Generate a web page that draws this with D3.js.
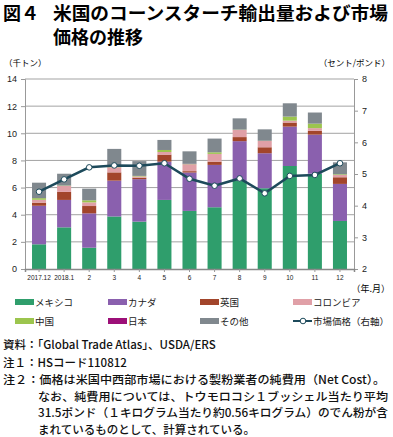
<html lang="ja">
<head>
<meta charset="UTF-8">
<script src="https://d3js.org/d3.v7.min.js"></script>
<style>
    body { margin: 0; background: #fff; }
    svg { font-family: "Noto Sans CJK JP", sans-serif; }
</style>
</head>
<body>
<script>
    const labels = ["2017.12", "2018.1", "2", "3", "4", "5", "6", "7", "8", "9", "10", "11", "12"];
    const mexico   = [1.82, 3.07, 1.57, 3.87, 3.49, 5.09, 4.28, 4.55, 6.50, 5.95, 7.59, 7.02, 3.54];
    const canada   = [2.84, 2.02, 2.53, 2.64, 3.13, 2.82, 2.83, 3.12, 2.92, 2.58, 2.90, 2.88, 2.73];
    const uk       = [0.23, 0.59, 0.54, 0.61, 0.10, 0.52, 0.10, 0.24, 0.30, 0.44, 0.30, 0.28, 0.49];
    const colombia = [0.21, 0.44, 0.27, 0.38, 0.10, 0.19, 0.50, 0.57, 0.53, 0.46, 0.14, 0.20, 0.17];
    const china    = [0.12, 0.03, 0.15, 0.10, 0.04, 0.15, 0.02, 0.12, 0.02, 0.02, 0.30, 0.33, 0.05];
    const japan    = [0, 0, 0, 0, 0, 0, 0.02, 0, 0, 0, 0, 0, 0];
    const other    = [1.14, 0.87, 0.86, 1.25, 1.09, 0.74, 0.92, 1.01, 0.83, 0.84, 0.98, 0.82, 0.88];
    const price    = [4.44, 4.83, 5.21, 5.27, 5.26, 5.34, 4.85, 4.63, 4.86, 4.39, 4.94, 4.97, 5.34];
    const leftTicks = [0, 2, 4, 6, 8, 10, 12, 14];
    const rightTicks = [2, 3, 4, 5, 6, 7, 8];

    const seriesNames = ["メキシコ", "カナダ", "英国", "コロンビア", "中国", "日本", "その他"];
    const seriesData = [mexico, canada, uk, colombia, china, japan, other];
    const colors = ["#2f9e6c", "#8a60ae", "#a2452b", "#e0a0a7", "#9cc54e", "#9c0f78", "#80888e"];

    const w = 393, h = 437;
    const plotLeft = 25, plotRight = 354, plotTop = 79, plotBottom = 269;

    const rows = labels.map((l, i) => {
        const r = { label: l };
        seriesNames.forEach((n, k) => r[n] = seriesData[k][i]);
        return r;
    });
    const stacked = d3.stack().keys(seriesNames)(rows);

    const xScale = d3.scaleBand().domain(labels).range([plotLeft, plotRight]).paddingInner(0.44).paddingOuter(0.28);
    const yScale = d3.scaleLinear().domain([0, 14]).range([plotBottom, plotTop]);
    const y2Scale = d3.scaleLinear().domain([2, 8]).range([plotBottom, plotTop]);

    const svg = d3.select("body").append("svg").attr("width", w).attr("height", h);

    // title
    svg.append("text").attr("x", 3).attr("y", 20).style("font-size", "18px").style("font-weight", "bold")
        .text("図４");
    svg.append("text").attr("x", 53).attr("y", 20).style("font-size", "18px").style("font-weight", "bold")
        .attr("textLength", 335).attr("lengthAdjust", "spacingAndGlyphs").text("米国のコーンスターチ輸出量および市場");
    svg.append("text").attr("x", 53).attr("y", 44).style("font-size", "18px").style("font-weight", "bold")
        .text("価格の推移");

    svg.append("text").attr("x", 4).attr("y", 66).style("font-size", "8.5px").text("（千トン）");
    svg.append("text").attr("x", 390).attr("y", 66).attr("text-anchor", "end").style("font-size", "8.5px").text("（セント/ポンド）");

    // gridlines
    svg.append("g").selectAll("line").data(leftTicks.slice(1)).enter().append("line")
        .attr("x1", plotLeft).attr("x2", plotRight)
        .attr("y1", d => yScale(d)).attr("y2", d => yScale(d))
        .attr("stroke", "#a3a3a3").attr("stroke-width", 1);

    const yAxis = d3.axisLeft(yScale).tickValues(leftTicks).tickSize(4).tickPadding(4);
    const gy = svg.append("g").attr("transform", "translate(" + plotLeft + ",0)").call(yAxis);
    gy.select(".domain").attr("stroke", "#999");
    gy.selectAll(".tick line").attr("stroke", "#999");
    gy.selectAll("text").style("font-size", "9px").style("font-family", "Arial, 'Liberation Sans', sans-serif").attr("fill", "#222");

    const y2Axis = d3.axisRight(y2Scale).tickValues(rightTicks).tickFormat(d3.format("d")).tickSize(4).tickPadding(4);
    const gy2 = svg.append("g").attr("transform", "translate(" + plotRight + ",0)").call(y2Axis);
    gy2.select(".domain").attr("stroke", "#999");
    gy2.selectAll(".tick line").attr("stroke", "#999");
    gy2.selectAll("text").style("font-size", "9px").style("font-family", "Arial, 'Liberation Sans', sans-serif").attr("fill", "#222");

    // bars
    svg.append("g").selectAll("g").data(stacked).enter().append("g")
        .attr("fill", (d, i) => colors[i])
        .selectAll("rect").data(d => d).enter().append("rect")
        .attr("x", d => xScale(d.data.label))
        .attr("width", xScale.bandwidth())
        .attr("y", d => yScale(d[1]))
        .attr("height", d => yScale(d[0]) - yScale(d[1]));

    const xAxis = d3.axisBottom(xScale).tickSize(3).tickPadding(3);
    const gx = svg.append("g").attr("transform", "translate(0," + plotBottom + ")").call(xAxis);
    gx.select(".domain").attr("stroke", "#888").attr("stroke-width", 1.5);
    gx.selectAll(".tick line").attr("stroke", "#999");
    gx.selectAll("text").style("font-size", "6.5px").style("font-family", "Arial, 'Liberation Sans', sans-serif").attr("fill", "#222");

    // price line
    const line = d3.line().x((d, i) => xScale(labels[i]) + xScale.bandwidth() / 2).y(d => y2Scale(d));
    svg.append("path").datum(price).attr("d", line).attr("fill", "none")
        .attr("stroke", "#1d4a5b").attr("stroke-width", 2.5);
    svg.append("g").selectAll("circle").data(price).enter().append("circle")
        .attr("cx", (d, i) => xScale(labels[i]) + xScale.bandwidth() / 2)
        .attr("cy", d => y2Scale(d)).attr("r", 2.8)
        .attr("fill", "#fff").attr("stroke", "#1d4a5b").attr("stroke-width", 1);

    svg.append("text").attr("x", 390).attr("y", 292).attr("text-anchor", "end").style("font-size", "9px").text("（年.月）");

    // legend
    const legendItems = seriesNames.concat(["市場価格（右軸）"]);
    const legend = svg.append("g").selectAll("g").data(legendItems).enter().append("g")
        .attr("transform", (d, i) => "translate(" + [15, 108, 200, 293][i % 4] + "," + (i < 4 ? 302 : 321) + ")");
    legend.filter((d, i) => i < 7).append("rect")
        .attr("x", 0).attr("y", -3).attr("width", 19).attr("height", 6)
        .attr("fill", (d, i) => colors[i]);
    const lastItem = legend.filter((d, i) => i === 7);
    lastItem.append("line").attr("x1", 0).attr("x2", 19).attr("y1", 0).attr("y2", 0)
        .attr("stroke", "#1d4a5b").attr("stroke-width", 2);
    lastItem.append("circle").attr("cx", 10).attr("cy", 0).attr("r", 2.8)
        .attr("fill", "#fff").attr("stroke", "#1d4a5b").attr("stroke-width", 1);
    legend.append("text").attr("x", 20).attr("y", 3.5).style("font-size", "9.5px").attr("fill", "#222")
        .text(d => d);

    // notes
    const notes = [
        [3, 349, "資料：「Global Trade Atlas」、USDA/ERS", 0],
        [3, 367, "注１：HSコード110812", 0],
        [3, 384, "注２：価格は米国中西部市場における製粉業者の純費用（Net Cost）。", 382],
        [38, 401, "なお、純費用については、トウモロコシ１ブッシェル当たり平均", 350],
        [38, 417, "31.5ポンド（１キログラム当たり約0.56キログラム）のでん粉が含", 350],
        [38, 434, "まれているものとして、計算されている。", 0]
    ];
    const noteText = svg.append("g").selectAll("text").data(notes).enter().append("text")
        .attr("x", d => d[0]).attr("y", d => d[1])
        .style("font-size", "11.5px").style("font-weight", "500").attr("fill", "#111")
        .text(d => d[2]);
    noteText.filter(d => d[3] > 0)
        .attr("textLength", d => d[3]).attr("lengthAdjust", "spacingAndGlyphs");
</script>
</body>
</html>
